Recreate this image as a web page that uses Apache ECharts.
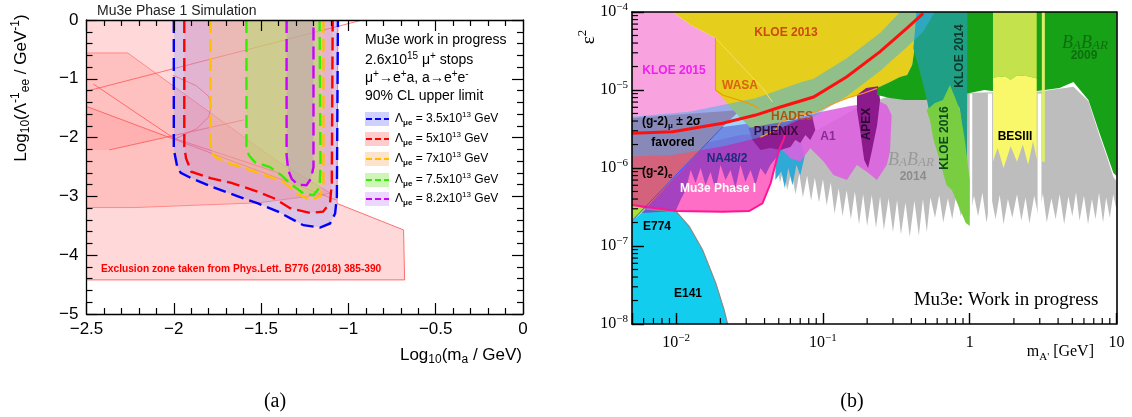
<!DOCTYPE html>
<html><head><meta charset="utf-8">
<script src="https://cdn.jsdelivr.net/npm/echarts@6/dist/echarts.min.js"></script>
<style>html,body{margin:0;padding:0;background:#fff}#c{width:1132px;height:417px}</style>
</head><body><div id="c"></div>
<script>
// ================= Panel (a): Log10(m_a) vs Log10(Lambda_ee^-1) =================
const aContour35 = [[-2.0,0],[-2.0,-2.2],[-1.98,-2.5],[-1.96,-2.6],[-1.90,-2.69],[-1.786,-2.83],[-1.633,-3.0],[-1.518,-3.12],[-1.403,-3.26],[-1.258,-3.49],[-1.162,-3.53],[-1.105,-3.46],[-1.076,-3.29],[-1.066,-3.0],[-1.06,0]];
const aContour50 = [[-1.94,0],[-1.94,-2.15],[-1.93,-2.35],[-1.90,-2.58],[-1.79,-2.69],[-1.67,-2.77],[-1.52,-2.92],[-1.42,-3.04],[-1.334,-3.2],[-1.22,-3.28],[-1.145,-3.26],[-1.105,-3.11],[-1.095,-2.77],[-1.09,0]];
const aContour70 = [[-1.79,0],[-1.79,-2.1],[-1.78,-2.25],[-1.766,-2.32],[-1.709,-2.41],[-1.594,-2.52],[-1.479,-2.64],[-1.373,-2.75],[-1.296,-2.95],[-1.22,-3.06],[-1.162,-3.0],[-1.143,-2.78],[-1.143,0]];
const aContour75 = [[-1.584,0],[-1.584,-2.15],[-1.57,-2.3],[-1.535,-2.42],[-1.45,-2.5],[-1.384,-2.64],[-1.334,-2.78],[-1.258,-2.95],[-1.2,-2.98],[-1.165,-2.85],[-1.16,-2.5],[-1.165,0]];
const aContour82 = [[-1.354,0],[-1.354,-2.3],[-1.345,-2.55],[-1.325,-2.7],[-1.29,-2.8],[-1.24,-2.81],[-1.215,-2.7],[-1.2,-2.5],[-1.2,0]];
const aLambdaLabels = ['3.5', '5', '7', '7.5', '8.2'];
// exclusion zones (Phys.Lett. B776)
const aExclOuter = [[-2.5,0],[-1.06,0],[-1.065,-3.12],[-0.684,-3.57],[-0.678,-4.42],[-2.5,-4.42]];
const aExclMid = [[-2.5,-0.56],[-2.264,-0.56],[-1.403,-2.41],[-1.1,-2.95],[-1.518,-3.11],[-2.225,-3.19],[-2.5,-3.19]];
const aExclInner = [[-2.5,-1.47],[-2.037,-1.984],[-2.37,-2.21],[-2.5,-2.21]];
const aLine1 = [[-2.5,-1.21],[-0.92,0]];
const aLine2 = [[-2.5,-1.47],[-1.07,-3.06]];
const aLine3 = [[-2.46,-1.09],[-2.0,-2.01],[-1.39,-2.61]];
const aLine4 = [[-2.37,-2.21],[-1.6,-1.7]];
const aCurve = [[-2.005,-0.94],[-1.87,-1.12],[-1.80,-1.3],[-1.786,-1.47],[-1.80,-1.65],[-1.87,-1.85],[-2.005,-2.04]];

// ================= Panel (b): m_A' [GeV] vs epsilon^2 =================
const bBabar2014 = [[0.0474,1.7e-6],[0.06,2.29e-6],[0.0959,3.2e-6],[0.179,6.2e-6],[0.286,8.4e-6],[0.536,8.8e-6],[1.0,9.2e-6],[2.99,9.6e-6],[5.09,1.1e-5],[6.44,7.2e-6],[7.66,2.6e-6],[8.55,1.45e-6],[9.53,7.6e-7],[10,6.8e-7],
 [10,2.9e-7],[9.5,4.6e-7],[9.0,2.3e-7],[8.5,4.2e-7],[8.1,2.0e-7],[7.6,4.8e-7],[7.2,2.2e-7],[6.8,4.0e-7],[6.4,1.9e-7],[6.0,4.4e-7],[5.6,2.1e-7],[5.3,4.9e-7],[5.0,2.4e-7],[4.7,4.3e-7],[4.4,1.9e-7],[4.1,4.6e-7],[3.85,2.2e-7],[3.6,4.1e-7],[3.35,2.0e-7],[3.15,4.7e-7],[2.95,2.3e-7],[2.75,4.4e-7],[2.55,1.95e-7],[2.4,4.2e-7],[2.25,2.1e-7],[2.1,4.6e-7],[1.95,2.3e-7],[1.82,4.0e-7],[1.7,1.9e-7],[1.6,4.5e-7],[1.5,2.2e-7],[1.4,4.3e-7],[1.3,2.0e-7],[1.22,4.8e-7],[1.14,2.4e-7],[1.07,4.4e-7],[1.0,2.3e-7],
 [0.93,4.2e-7],[0.87,2.4e-7],[0.81,4.6e-7],[0.76,2.2e-7],[0.71,4.1e-7],[0.66,2.0e-7],[0.62,4.5e-7],[0.58,2.3e-7],[0.54,4.2e-7],
 [0.51,1.5e-7],[0.48,4.0e-7],[0.45,1.35e-7],[0.42,3.8e-7],[0.39,1.3e-7],[0.365,3.6e-7],[0.34,1.4e-7],[0.32,3.9e-7],[0.30,1.5e-7],[0.28,4.1e-7],[0.26,1.6e-7],[0.245,4.3e-7],[0.23,1.7e-7],[0.215,4.5e-7],[0.2,1.8e-7],[0.188,4.6e-7],[0.176,1.9e-7],[0.165,5.0e-7],[0.155,2.2e-7],[0.145,5.2e-7],[0.136,2.4e-7],[0.128,5.5e-7],[0.12,2.6e-7],
 [0.113,6.5e-7],[0.106,3.3e-7],[0.1,7.2e-7],[0.094,3.6e-7],[0.088,7.5e-7],[0.083,3.8e-7],[0.078,8.0e-7],[0.073,4.2e-7],[0.069,8.5e-7],[0.065,4.6e-7],[0.061,9.0e-7],[0.057,5.2e-7],[0.054,1.0e-6],[0.051,6.5e-7],[0.048,1.2e-6]];
const bCyanSpikes = [[0.0474,1.6e-6],[0.07,2.3e-6],[0.075,1.4e-6],[0.07,8e-7],[0.066,1.1e-6],[0.062,6e-7],[0.058,1e-6],[0.055,5.5e-7],[0.052,9e-7],[0.0474,7e-7]];
const bGap1 = [[1.0,9e-6],[1.04,9e-6],[1.04,1e-8],[1.0,1e-8]];
const bGap2 = [[1.33,9e-6],[1.42,9e-6],[1.42,1e-8],[1.33,1e-8]];
const bGap3 = [[2.9,9e-6],[3.08,9e-6],[3.08,1e-8],[2.9,1e-8]];
const bE141 = [[0.005,1e-8],[0.005,2.11e-7],[0.00624,2.96e-7],[0.01,2.76e-7],[0.0123,1.77e-7],[0.01514,8.89e-8],[0.01862,3.33e-8],[0.02123,1.51e-8],[0.0224,1e-8]];
const bGreenTri = [[0.005,3.36e-7],[0.00624,2.96e-7],[0.005,2.11e-7]];
const bMu3e = [[0.005,3.36e-7],[0.01,2.81e-7],[0.0207,2.75e-7],[0.0314,2.81e-7],[0.0387,3.52e-7],[0.044,6.37e-7],[0.0502,1.7e-6],[0.0543,2.4e-6],[0.0557,2.92e-6],[0.0274,2.65e-6],[0.005,1.27e-6]];
const bKloe2015 = [[0.005,1e-4],[0.00947,1e-4],[0.01256,6.81e-5],[0.01854,4.64e-5],[0.01854,1e-5],[0.02535,8.13e-6],[0.0347,6.42e-6],[0.0274,5.22e-6],[0.01466,4.77e-6],[0.005,4.12e-6]];
const bG2e = [[0.005,4.38e-6],[0.0274,5.55e-6],[0.0207,3.36e-6],[0.00624,2.96e-7],[0.005,3.36e-7]];
const bNA48 = [[0.00583,2.65e-7],[0.0207,3.36e-6],[0.0375,3.89e-6],[0.06,3.56e-6],[0.0555,2.29e-6],[0.0497,1.47e-6],[0.0438,1.09e-6],[0.0406,8.13e-7],[0.0375,1e-6],[0.0347,6.05e-7],[0.0321,9.42e-7],[0.02965,6.62e-7],[0.0274,1.09e-6],[0.02535,5.54e-7],[0.02344,9.42e-7],[0.0217,7.02e-7],[0.02004,1.09e-6],[0.01854,5.22e-7],[0.01715,8.89e-7],[0.01585,6.05e-7],[0.01466,1e-6],[0.01356,6.42e-7],[0.01256,9.42e-7],[0.01161,5.22e-7],[0.0107,3.89e-7],[0.00993,2.81e-7]];
const bA1 = [[0.0555,3.56e-6],[0.0701,4.51e-6],[0.0959,5.22e-6],[0.153,6.23e-6],[0.245,7.08e-6],[0.272,6.42e-6],[0.294,4.77e-6],[0.286,1.62e-6],[0.272,1.09e-6],[0.233,7.02e-7],[0.199,8.97e-7],[0.170,1.09e-6],[0.1455,7.02e-7],[0.118,8.13e-7],[0.101,1.21e-6],[0.082,1.79e-6],[0.0701,1.21e-6],[0.06,1.33e-6],[0.0513,1.79e-6]];
const bKloe2013 = [[0.00947,1e-4],[0.434,1e-4],[0.424,3.78e-5],[0.405,2.09e-5],[0.374,1.56e-5],[0.335,1.43e-5],[0.286,1.27e-5],[0.233,1.05e-5],[0.189,9.08e-6],[0.1455,7.83e-6],[0.112,6.42e-6],[0.091,5.27e-6],[0.0701,4.77e-6],[0.0513,3.89e-6],[0.0474,3.07e-6],[0.0375,2.49e-6],[0.0274,4.38e-6],[0.0228,6.42e-6],[0.01854,1e-5],[0.01854,4.64e-5],[0.01256,6.81e-5]];
const bHades = [[0.0375,2.49e-6],[0.0474,3.07e-6],[0.0513,3.89e-6],[0.0701,4.77e-6],[0.091,5.27e-6],[0.112,6.42e-6],[0.1455,7.83e-6],[0.189,9.08e-6],[0.233,1.05e-5]];
const bWasa = [[0.01854,4.64e-5],[0.01854,1e-5],[0.0207,8.62e-6],[0.0314,6.74e-6],[0.0367,5.82e-6]];
const bKloeEdge = [[0.01854,4.64e-5],[0.0387,1.06e-5],[0.0453,7.02e-6]];
const bPhenix = [[0.0311,3.26e-6],[0.0438,3.67e-6],[0.0701,4.25e-6],[0.0846,4.51e-6],[0.0887,3.07e-6],[0.082,2.29e-6],[0.0759,2.65e-6],[0.0701,2.09e-6],[0.0649,2.29e-6],[0.06,1.86e-6],[0.0513,1.7e-6],[0.0438,1.8e-6],[0.0375,1.7e-6],[0.0331,2.29e-6]];
const bApex = [[0.1705,8.62e-6],[0.197,1.06e-5],[0.2376,1.12e-5],[0.245,7.45e-6],[0.234,3.56e-6],[0.216,1.7e-6],[0.203,1e-6],[0.191,1.27e-6],[0.179,3.07e-6],[0.1705,5.55e-6]];
const bBabar2009 = [[0.234,1.06e-5],[0.286,1.27e-5],[0.335,1.47e-5],[0.374,1.56e-5],[0.405,2.09e-5],[0.424,3.78e-5],[0.434,1e-4],[10,1e-4],[10,7.89e-7],[9.53,8.63e-7],[8.55,1.56e-6],[7.66,2.81e-6],[6.44,7.45e-6],[5.09,1.27e-5],[4.09,1.06e-5],[3.24,1e-5],[2.56,9.43e-6],[2.02,1e-5],[1.6,9.43e-6],[1.26,1e-5],[1.0,9.15e-6],[0.857,8.62e-6],[0.627,8.13e-6],[0.497,7.45e-6],[0.361,7.45e-6],[0.286,7.89e-6],[0.234,8.62e-6]];
const bBes3Top = [[1.44,1e-4],[2.86,1e-4],[2.86,1.4e-5],[2.5,1.5e-5],[2.1,1.55e-5],[1.9,1.35e-5],[1.75,1.5e-5],[1.44,1.45e-5]];
const bBes3 = [[1.44,1.45e-5],[1.75,1.5e-5],[1.9,1.35e-5],[2.1,1.55e-5],[2.5,1.5e-5],[2.86,1.4e-5],[2.86,1.3e-6],[2.7,2.2e-6],[2.5,1.1e-6],[2.3,2.0e-6],[2.1,1.2e-6],[1.9,1.9e-6],[1.7,1.0e-6],[1.55,1.8e-6],[1.44,1.2e-6]];
const bBes3Strip = [[3.1,1e-4],[3.25,1e-4],[3.25,1.2e-6],[3.1,1.2e-6]];
const bKloe2014 = [[0.434,1e-4],[0.965,1e-4],[0.956,6.67e-7],[0.902,1.97e-6],[0.857,5.82e-6],[0.771,7.45e-6],[0.733,1.05e-5],[0.659,6.42e-6],[0.536,4.77e-6],[0.508,7.83e-6],[0.458,1.72e-5],[0.413,3.42e-5],[0.424,5.88e-5]];
const bKloe2016 = [[0.508,5.55e-6],[0.579,6.81e-6],[0.657,7.45e-6],[0.733,1.16e-5],[0.792,8.13e-6],[0.857,5.55e-6],[0.926,2.29e-6],[1.0,7.02e-7],[1.0,1.8e-7],[0.941,1.97e-7],[0.843,3.16e-7],[0.756,5.22e-7],[0.695,6.05e-7],[0.627,1.21e-6],[0.564,2.4e-6],[0.536,4.12e-6]];
const bG2muBand = [[0.005,4.55e-6],[0.0123,5.27e-6],[0.0348,7.83e-6],[0.0723,1.28e-5],[0.0859,1.38e-5],[0.146,2.57e-5],[0.245,5.38e-5],[0.335,1e-4],[0.579,1e-4],[0.48,5.54e-5],[0.374,3.56e-5],[0.245,1.75e-5],[0.146,8.37e-6],[0.0859,4.51e-6],[0.0723,4.34e-6],[0.0387,2.52e-6],[0.0207,1.88e-6],[0.00947,1.47e-6],[0.005,1.4e-6]];
const bG2muCentral = [[0.005,2.79e-6],[0.00947,2.92e-6],[0.0207,3.74e-6],[0.0348,4.77e-6],[0.0513,6.05e-6],[0.0863,8.13e-6],[0.1455,1.48e-5],[0.245,3.1e-5],[0.372,6.18e-5],[0.482,9.62e-5]];
const bNA48Edge = [[0.005,2.11e-7],[0.0207,3.36e-6]];
const bXMinor = [0.006,0.007,0.008,0.009,0.02,0.03,0.04,0.05,0.06,0.07,0.08,0.09,0.2,0.3,0.4,0.5,0.6,0.7,0.8,0.9,2,3,4,5,6,7,8,9];
const bYMinor = [2e-8,3e-8,4e-8,5e-8,6e-8,7e-8,8e-8,9e-8,2e-7,3e-7,4e-7,5e-7,6e-7,7e-7,8e-7,9e-7,2e-6,3e-6,4e-6,5e-6,6e-6,7e-6,8e-6,9e-6,2e-5,3e-5,4e-5,5e-5,6e-5,7e-5,8e-5,9e-5];

// ================= rendering =================
const SANS = 'Liberation Sans, Arial, Helvetica, sans-serif';
const SERIF = 'Liberation Serif, Times New Roman, serif';

function poly(panel, pts, style, z) {
  const ai = panel === 'a' ? 0 : 2;
  return {type:'custom', xAxisIndex: ai, yAxisIndex: ai, data: pts, clip: true, silent: true, z: z || 2, animation: false,
    renderItem: function (params, api) {
      if (params.dataIndex !== 0) return null;
      return {type:'polygon', shape:{points: pts.map(function(p){return api.coord(p);})}, style: style};
    }};
}
function pline(panel, pts, style, z) {
  const ai = panel === 'a' ? 0 : 2;
  return {type:'custom', xAxisIndex: ai, yAxisIndex: ai, data: pts, clip: true, silent: true, z: z || 3, animation: false,
    renderItem: function (params, api) {
      if (params.dataIndex !== 0) return null;
      return {type:'polyline', shape:{points: pts.map(function(p){return api.coord(p);})}, style: Object.assign({fill: null}, style)};
    }};
}

const series = [];
// panel a
series.push(poly('a', aExclOuter, {fill:'rgba(255,120,120,0.28)', stroke:'rgba(255,70,70,0.75)', lineWidth:1}));
series.push(poly('a', aExclMid, {fill:'rgba(255,120,120,0.25)', stroke:'rgba(255,80,80,0.55)', lineWidth:1}));
series.push(poly('a', aExclInner, {fill:'rgba(255,120,120,0.22)'}));
[aLine1, aLine2, aLine3, aLine4, aCurve].forEach(function(l){ series.push(pline('a', l, {stroke:'rgba(255,70,70,0.7)', lineWidth:1})); });
const aContours = [aContour35, aContour50, aContour70, aContour75, aContour82];
const aFill = ['rgba(140,150,255,0.3)','rgba(255,120,140,0.2)','rgba(255,200,120,0.3)','rgba(170,230,90,0.42)','rgba(180,130,220,0.3)'];
const aStroke = ['#0000ff','#ff0000','#ffbf00','#33ee00','#cc00ff'];
const aBox = ['#d0d0ff','#ffcccc','#fde3cc','#cdf5b8','#ead8ff'];
aContours.forEach(function(c, i){ series.push(poly('a', c, {fill: aFill[i]}, 4 + i)); });
aContours.forEach(function(c, i){ series.push(pline('a', c, {stroke: aStroke[i], lineWidth: 2.4, lineDash:[13,6]}, 10)); });

// panel b
series.push(poly('b', bBabar2014, {fill:'#bdbdbd'}));
series.push(poly('b', bCyanSpikes, {fill:'#2fa9d6'}));
[bGap1, bGap2, bGap3].forEach(function(gp){ series.push(poly('b', gp, {fill:'#ffffff'})); });
series.push(poly('b', bE141, {fill:'#12cdee'}));
series.push(pline('b', bE141.slice(2), {stroke:'#8a8a8a', lineWidth:1.2}));
series.push(poly('b', bGreenTri, {fill:'#a8e03c'}));
series.push(poly('b', bMu3e, {fill:'#ff6ec6'}));
series.push(poly('b', bKloe2015, {fill:'#f8a3df'}));
series.push(poly('b', bG2e, {fill:'#d4627c'}));
series.push(poly('b', bNA48, {fill:'rgba(130,50,190,0.72)'}));
series.push(poly('b', bA1, {fill:'rgba(222,96,224,0.88)'}));
series.push(poly('b', bKloe2013, {fill:'#e5cf1c'}));
series.push(pline('b', bKloeEdge, {stroke:'#f3e06a', lineWidth:1}));
series.push(poly('b', bPhenix, {fill:'rgba(140,25,140,0.9)'}));
series.push(poly('b', bApex, {fill:'#8c1a8c'}));
series.push(poly('b', bBabar2009, {fill:'#17a117'}));
series.push(poly('b', bBes3Top, {fill:'#c4e24c'}));
series.push(poly('b', bBes3, {fill:'#f8f86a'}));
series.push(poly('b', bBes3Strip, {fill:'#dcee6a'}));
series.push(poly('b', bKloe2014, {fill:'#1fa086'}));
series.push(poly('b', bKloe2016, {fill:'#78cd40'}));
series.push(poly('b', bG2muBand, {fill:'rgba(60,175,245,0.5)'}));
series.push(pline('b', bMu3e.slice(0, 9), {stroke:'#ff1493', lineWidth:2}));
series.push(pline('b', bNA48Edge, {stroke:'#3355ff', lineWidth:1}));
series.push(pline('b', bHades, {stroke:'#f09a20', lineWidth:1.2}));
series.push(pline('b', bWasa, {stroke:'#f09a00', lineWidth:1.2}));
series.push(pline('b', bG2muCentral, {stroke:'#ff1010', lineWidth:3}, 8));
// minor ticks (log axes) on panel b
series.push({type:'custom', xAxisIndex:2, yAxisIndex:2, clip:false, silent:true, z:20, animation:false,
  data: bXMinor.map(function(v){return [v, 1e-8];}),
  renderItem: function(params, api){ const p = api.coord([api.value(0), api.value(1)]);
    return {type:'line', shape:{x1:p[0], y1:p[1], x2:p[0], y2:p[1]-6}, style:{stroke:'#000', lineWidth:1.2}}; }});
series.push({type:'custom', xAxisIndex:2, yAxisIndex:2, clip:false, silent:true, z:20, animation:false,
  data: bYMinor.map(function(v){return [0.005, v];}),
  renderItem: function(params, api){ const p = api.coord([api.value(0), api.value(1)]);
    return {type:'line', shape:{x1:p[0], y1:p[1], x2:p[0]+6, y2:p[1]}, style:{stroke:'#000', lineWidth:1.2}}; }});

function minusFmt(v){ return String(v).replace('-', '\u2212'); }
function powFmt(v){
  const e = Math.log10(v); const k = Math.round(e);
  if (Math.abs(e - k) > 1e-6) return '';
  if (k === 0) return '1';
  if (k === 1) return '10';
  return '10{sup|\u2212' + (-k) + '}';
}
const aLine = {onZero:false, lineStyle:{color:'#000', width:1.3}};
const bLine = {onZero:false, lineStyle:{color:'#000', width:1.6}};
const tickA = {inside:true, length:11, lineStyle:{color:'#000', width:1.2}};
const minorA = {show:true, splitNumber:5, length:6, lineStyle:{color:'#000', width:1.2}};

const xAxis = [
  {type:'value', gridIndex:0, min:-2.5, max:0, interval:0.5, position:'bottom', z:20, splitLine:{show:false}, axisLine:aLine,
    axisTick:tickA, minorTick:minorA,
    axisLabel:{formatter:minusFmt, color:'#000', fontSize:17, fontFamily:SANS, margin:7}},
  {type:'value', gridIndex:0, min:-2.5, max:0, interval:0.5, position:'top', z:20, splitLine:{show:false}, axisLine:aLine,
    axisTick:tickA, minorTick:minorA, axisLabel:{show:false}},
  {type:'log', logBase:10, gridIndex:1, min:0.005, max:10, position:'bottom', z:20, splitLine:{show:false}, axisLine:bLine,
    axisTick:{inside:true, length:11, lineStyle:{color:'#000', width:1.4}},
    axisLabel:{formatter:powFmt, color:'#000', fontSize:16, fontFamily:SERIF, margin:9, lineHeight:20,
      rich:{sup:{fontSize:11, fontFamily:SERIF, color:'#000', verticalAlign:'top', lineHeight:11}}}},
  {type:'log', logBase:10, gridIndex:1, min:0.005, max:10, position:'top', z:20, splitLine:{show:false}, axisLine:bLine,
    axisTick:{show:false}, axisLabel:{show:false}}
];
const yAxis = [
  {type:'value', gridIndex:0, min:-5, max:0, interval:1, position:'left', z:20, splitLine:{show:false}, axisLine:aLine,
    axisTick:tickA, minorTick:minorA,
    axisLabel:{formatter:minusFmt, color:'#000', fontSize:17, fontFamily:SANS, margin:8}},
  {type:'value', gridIndex:0, min:-5, max:0, interval:1, position:'right', z:20, splitLine:{show:false}, axisLine:aLine,
    axisTick:tickA, minorTick:minorA, axisLabel:{show:false}},
  {type:'log', logBase:10, gridIndex:1, min:1e-8, max:1e-4, position:'left', z:20, splitLine:{show:false}, axisLine:bLine,
    axisTick:{inside:true, length:12, lineStyle:{color:'#000', width:1.4}},
    axisLabel:{formatter:powFmt, color:'#000', fontSize:16, fontFamily:SERIF, margin:4, lineHeight:20,
      rich:{sup:{fontSize:11, fontFamily:SERIF, color:'#000', verticalAlign:'top', lineHeight:11}}}},
  {type:'log', logBase:10, gridIndex:1, min:1e-8, max:1e-4, position:'right', z:20, splitLine:{show:false}, axisLine:bLine,
    axisTick:{show:false}, axisLabel:{show:false}}
];

// ---------- text (graphic) ----------
function T(x, y, text, o) {
  o = o || {};
  const st = {text:text, x:0, y:0, fill:o.fill || '#000', fontSize:o.size || 12, fontFamily:o.family || SANS,
    fontWeight:o.weight || 'normal', fontStyle:o.style || 'normal', align:o.align || 'center', verticalAlign:'middle',
    lineHeight:o.lh || Math.round((o.size || 12) * 1.3), rich:o.rich || {}};
  return {type:'text', x:x, y:y, rotation:o.rot || 0, z:100, silent:true, style:st};
}
function richSet(size, family, weight, fill){
  const s = Math.round(size * 0.68);
  return {
    sup:{fontSize:s, fontFamily:family, fontWeight:weight, fill:fill, verticalAlign:'top', lineHeight:s},
    sub:{fontSize:s, fontFamily:family, fontWeight:weight, fill:fill, verticalAlign:'bottom', lineHeight:s}
  };
}
const g = [];
// panel a texts
g.push(T(97, 11, 'Mu3e Phase 1 Simulation', {size:14, fill:'#222', align:'left'}));
g.push(T(365, 40, 'Mu3e work in progress', {size:14, align:'left'}));
g.push(T(365, 60, '2.6x10{sup|15} \u03bc{sup|+} stops', {size:14, align:'left', rich:richSet(14, SANS, 'normal', '#000')}));
g.push(T(365, 78, '\u03bc{sup|+}\u2192e{sup|+}a, a\u2192e{sup|+}e{sup|-}', {size:14, align:'left', rich:richSet(14, SANS, 'normal', '#000')}));
g.push(T(365, 96, '90% CL upper limit', {size:14, align:'left'}));
const legY = [119, 139, 159, 180, 199];
aLambdaLabels.forEach(function(lab, i){
  g.push({type:'rect', z:99, silent:true, shape:{x:365, y:legY[i]-7, width:24, height:14}, style:{fill:aBox[i]}});
  g.push({type:'line', z:99, silent:true, shape:{x1:366, y1:legY[i], x2:389, y2:legY[i]}, style:{stroke:aStroke[i], lineWidth:2, lineDash:[6,3]}});
  const rs = richSet(12, SANS, 'normal', '#000');
  rs.sub.fontWeight = 'bold';
  g.push(T(395, legY[i], '\u039b{sub|\u03bce} = ' + lab + 'x10{sup|13} GeV', {size:12, align:'left', rich:rs}));
});
g.push(T(101, 269, 'Exclusion zone taken from Phys.Lett. B776 (2018) 385-390', {size:10.2, weight:'bold', fill:'#ff0000', align:'left'}));
g.push(T(21, 88, 'Log{sub|10}(\u039b{sup|-1}{sub|ee} / GeV{sup|-1})', {size:17, rot:Math.PI/2, rich:richSet(17, SANS, 'normal', '#000')}));
g.push(T(522, 355, 'Log{sub|10}(m{sub|a} / GeV)', {size:17, align:'right', rich:richSet(17, SANS, 'normal', '#000')}));
g.push(T(275, 402, '(a)', {size:20, family:SERIF}));
// panel b texts
const B = {weight:'bold', size:12};
function bl(x, y, t, fill, extra){ return T(x, y, t, Object.assign({}, B, {fill:fill}, extra || {})); }
g.push(bl(786, 33, 'KLOE 2013', '#cc4a10'));
g.push(bl(674, 71, 'KLOE 2015', '#f020f0'));
g.push(bl(740, 86, 'WASA', '#dd6010'));
g.push(bl(792, 117, 'HADES', '#a85418'));
g.push(bl(642, 122, '(g-2){sub|\u03bc} \u00b1 2\u03c3', '#000', {align:'left', rich:richSet(12, SANS, 'bold', '#000')}));
g.push(bl(673, 143, 'favored', '#000'));
g.push(bl(776, 132, 'PHENIX', '#3a0a3a'));
g.push(bl(727, 159, 'NA48/2', '#1c2a7a'));
g.push(bl(642, 172, '(g-2){sub|e}', '#000', {align:'left', rich:richSet(12, SANS, 'bold', '#000')}));
g.push(bl(718, 189, 'Mu3e Phase I', '#ffffff'));
g.push(bl(657, 227, 'E774', '#000'));
g.push(bl(688, 294, 'E141', '#000'));
g.push(bl(828, 137, 'A1', '#8a2a9a'));
g.push(bl(867, 124, 'APEX', '#2a0830', {rot:Math.PI/2}));
g.push(bl(945, 138, 'KLOE 2016', '#0c4a18', {rot:Math.PI/2}));
g.push(bl(960, 56, 'KLOE 2014', '#0c3a28', {rot:Math.PI/2}));
g.push(bl(1015, 137, 'BESIII', '#000'));
const babarRich = function(fill){ return {
  b:{fontSize:18, fontFamily:SERIF, fontStyle:'italic', fill:fill, verticalAlign:'bottom', lineHeight:18},
  s:{fontSize:13, fontFamily:SERIF, fontStyle:'italic', fill:fill, verticalAlign:'bottom', lineHeight:14}}; };
g.push(T(911, 160, '{b|B}{s|A}{b|B}{s|AR}', {size:18, family:SERIF, lh:18, rich:babarRich('#9a9a9a')}));
g.push(bl(913, 177, '2014', '#8c8c8c'));
g.push(T(1085, 43, '{b|B}{s|A}{b|B}{s|AR}', {size:18, family:SERIF, lh:18, rich:babarRich('#0e6e0e')}));
g.push(bl(1084, 56, '2009', '#0e6e0e'));
g.push(T(1006, 300, 'Mu3e: Work in progress', {size:19, family:SERIF}));
g.push(T(589, 37, '\u03b5{sup|2}', {size:19, family:SERIF, rot:Math.PI/2, rich:richSet(19, SERIF, 'normal', '#000')}));
g.push(T(1094, 352, "m{sub|A'} [GeV]", {size:16, family:SERIF, align:'right', rich:richSet(16, SERIF, 'normal', '#000')}));
g.push(T(852, 402, '(b)', {size:20, family:SERIF}));

const chart = echarts.init(document.getElementById('c'), null, {renderer:'canvas'});
chart.setOption({
  animation: false,
  backgroundColor: '#ffffff',
  grid: [
    {left:86.5, top:20, width:436.5, height:294},
    {left:632, top:12, width:484.5, height:312}
  ],
  xAxis: xAxis,
  yAxis: yAxis,
  series: series,
  graphic: g
});
</script></body></html>
